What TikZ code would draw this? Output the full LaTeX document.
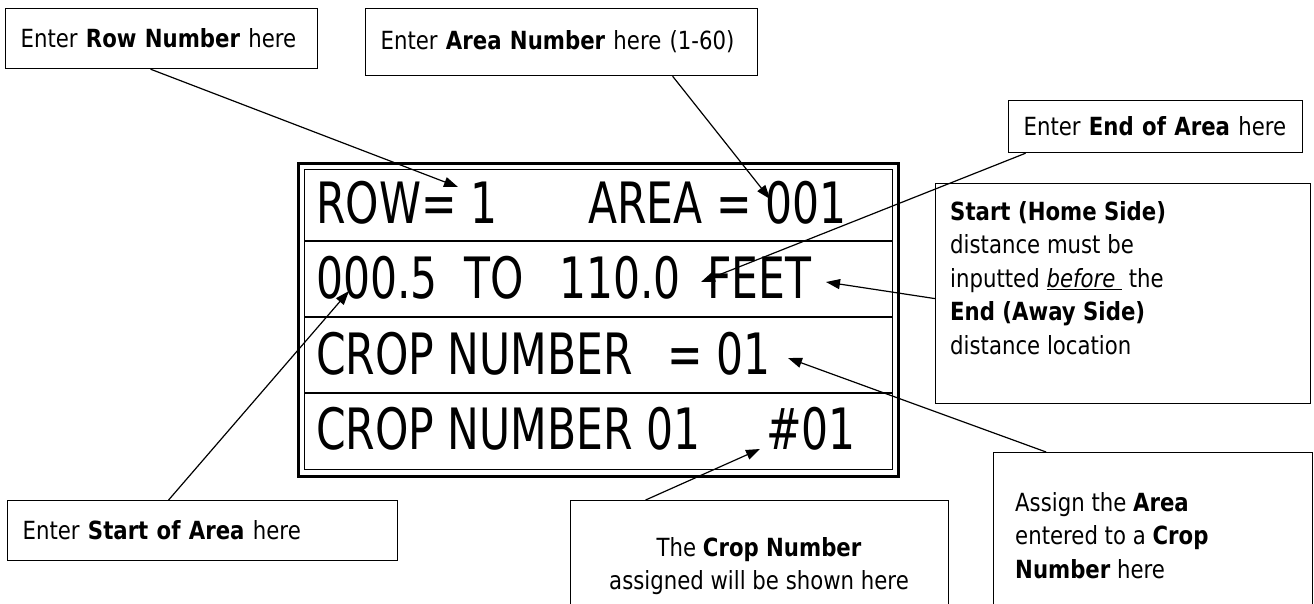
\documentclass[tikz,border=0pt]{standalone}
\usepackage{fontspec}
\setmainfont{DejaVu Sans}[FakeStretch=0.85]
\newfontfamily\lcdfont[FakeStretch=0.745]{DejaVu Sans}
\usetikzlibrary{arrows.meta}

\tikzset{
  note/.style={draw, line width=1.2pt, anchor=north west, inner xsep=15pt,
    inner ysep=0pt, align=left, font=\fontsize{25}{33.5}\selectfont},
  notebox/.style={draw, line width=1.2pt, anchor=north west, inner sep=0pt},
  notetext/.style={inner sep=0pt, font=\fontsize{25}{33.5}\selectfont},
  lcd/.style={anchor=base west, inner sep=0pt, font=\lcdfont\fontsize{57}{60}\selectfont},
  ptr/.style={line width=1.2pt, -{Triangle[length=14pt,width=10pt]}}
}

\begin{document}
\begin{tikzpicture}[x=1pt,y=-1pt]
    \useasboundingbox (0,0) rectangle (1314,603);

    % Display with double border
    \draw[line width=3pt] (298,163) rectangle (898,476);
    \draw[line width=1pt] (304,169) rectangle (892,469);
    \draw[line width=1.2pt] (304,241) -- (892,241);
    \draw[line width=1.2pt] (304,317) -- (892,317);
    \draw[line width=1.2pt] (304,393) -- (892,393);

    % Display rows
    \node[lcd] (rowval)   at (316,223) {ROW= 1};
    \node[lcd] (areaval)  at (588,223) {AREA = 001};
    \node[lcd] (startval) at (316,298) {000.5};
    \node[lcd] (toval)    at (464,298) {TO};
    \node[lcd] (endval)   at (559,298) {110.0};
    \node[lcd] (feet)     at (707,298) {FEET};
    \node[lcd] (cropa)    at (316,374) {CROP NUMBER};
    \node[lcd] (cropval)  at (667,374) {= 01};
    \node[lcd] (cropb)    at (316,449) {CROP NUMBER 01};
    \node[lcd] (cropno)   at (766,449) {\#01};

    % Single line callouts
    \node[note, text width=282pt, minimum height=60pt] (rowbox) at (5,8)
        {Enter \textbf{Row Number} here};
    \node[note, text width=362pt, minimum height=67pt] (areabox) at (365,8)
        {Enter \textbf{Area Number} here (1-60)};
    \node[note, text width=264pt, minimum height=52pt] (endbox) at (1008,100)
        {Enter \textbf{End of Area} here};
    \node[note, text width=360pt, minimum height=60pt] (startbox) at (7,500)
        {Enter \textbf{Start of Area} here};

    % Multi line callouts
    \node[notebox, minimum width=375pt, minimum height=220pt] (orderbox) at (935,183) {};
    \node[notetext, anchor=north west, align=left] (ordertext) at (950,201)
        {\textbf{Start (Home Side)}\\ distance must be\\
         inputted \underline{\textit{before}\ }\ the\\
         \textbf{End (Away Side)}\\ distance location};
    \node[notebox, minimum width=378pt, minimum height=140pt] (cropbox) at (570,500) {};
    \node[notetext, anchor=north, align=center] (croptext) at (759,537)
        {The \textbf{Crop Number}\\ assigned will be shown here};
    \node[notebox, minimum width=319pt, minimum height=180pt] (assignbox) at (993,452) {};
    \node[notetext, anchor=north west, align=left] (assigntext) at (1015,492)
        {Assign the \textbf{Area}\\ entered to a \textbf{Crop}\\ \textbf{Number} here};

    % Arrow targets
    \coordinate (tipRow)   at (458,187);
    \coordinate (tipArea)  at (770,199);
    \coordinate (tipEnd)   at (701,282);
    \coordinate (tipFeet)  at (826,282);
    \coordinate (tipCrop)  at (788,358);
    \coordinate (tipNo)    at (760,449);
    \coordinate (tipStart) at (349,291);

    % Connectors
    \draw[ptr] ([xshift=-11pt]rowbox.south) -- (tipRow);
    \draw[ptr] ([xshift=111pt]areabox.south) -- (tipArea);
    \draw[ptr] ([xshift=-130pt]endbox.south) -- (tipEnd);
    \draw[ptr] ([yshift=-5pt]orderbox.west) -- (tipFeet);
    \draw[ptr] ([xshift=-107pt]assignbox.north) -- (tipCrop);
    \draw[ptr] ([xshift=-114pt]cropbox.north) -- (tipNo);
    \draw[ptr] ([xshift=-34pt]startbox.north) -- (tipStart);
\end{tikzpicture}
\end{document}
